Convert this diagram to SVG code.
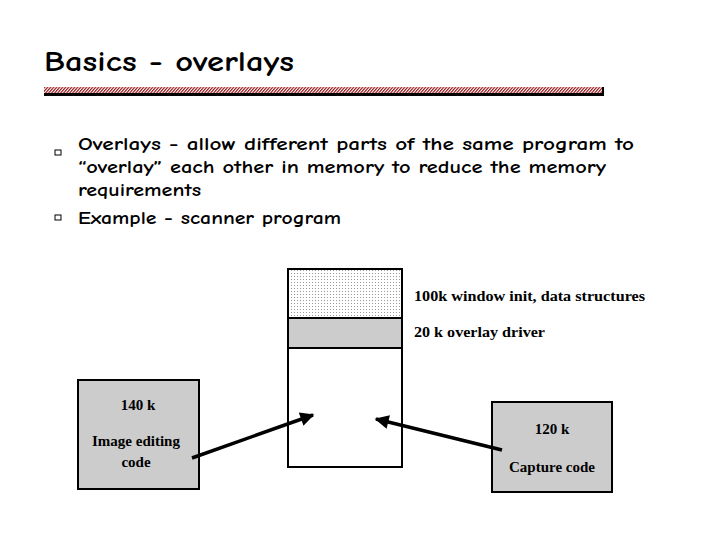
<svg xmlns="http://www.w3.org/2000/svg" width="720" height="540" viewBox="0 0 720 540">
<defs>
<pattern id="hatch" width="3" height="8" patternUnits="userSpaceOnUse" patternTransform="skewX(-40)">
<rect width="3" height="8" fill="#fff"/><rect width="1.6" height="8" fill="#9b1c1c"/>
</pattern>
<pattern id="dots" width="3" height="3" patternUnits="userSpaceOnUse">
<rect width="3" height="3" fill="#fff"/><rect width="1" height="1" fill="#999"/>
</pattern>
<marker id="ah" viewBox="0 0 10 10" refX="9" refY="5" markerWidth="5" markerHeight="4" orient="auto"><path d="M0,0L10,5L0,10z" fill="#000"/></marker>
<style>
.t{font-family:"Comic Neue","DejaVu Sans",sans-serif;font-weight:bold;fill:#000}
.s{font-family:"Liberation Serif",serif;font-size:15px;font-weight:bold;fill:#000}
.box{stroke:#000;stroke-width:2}
.ar{stroke:#000;stroke-width:3.5;marker-end:url(#ah)}
</style>
</defs>
<rect width="720" height="540" fill="#fff"/>
<text class="t" x="44" y="71" font-size="28" textLength="250" lengthAdjust="spacingAndGlyphs">Basics - overlays</text>
<rect x="44" y="87" width="558" height="6" fill="url(#hatch)"/>
<rect x="44" y="93" width="560" height="3" fill="#000"/>
<rect x="602" y="87" width="2" height="6" fill="#000"/>
<g class="t" font-size="18">
<rect x="55" y="150" width="6" height="5" fill="none" stroke="#000" stroke-width="1"/>
<rect x="55" y="215" width="6" height="5" fill="none" stroke="#000" stroke-width="1"/>
<text x="78" y="150" textLength="556" lengthAdjust="spacingAndGlyphs">Overlays - allow different parts of the same program to</text>
<text x="78" y="173" textLength="528" lengthAdjust="spacingAndGlyphs">“overlay” each other in memory to reduce the memory</text>
<text x="78" y="196" textLength="123" lengthAdjust="spacingAndGlyphs">requirements</text>
<text x="78" y="224" textLength="263" lengthAdjust="spacingAndGlyphs">Example - scanner program</text>
</g>
<g id="memory">
<rect class="box" x="288" y="269" width="114" height="49" fill="url(#dots)"/>
<rect class="box" x="288" y="318" width="114" height="30" fill="#ccc"/>
<rect class="box" x="288" y="348" width="114" height="119" fill="#fff"/>
<text class="s" x="414" y="301" textLength="231" lengthAdjust="spacingAndGlyphs">100k window init, data structures</text>
<text class="s" x="414" y="337" textLength="131" lengthAdjust="spacingAndGlyphs">20 k overlay driver</text>
</g>
<g id="image">
<rect class="box" x="78" y="380" width="121" height="109" fill="#ccc"/>
<text class="s" x="138" y="410" text-anchor="middle">140 k</text>
<text class="s" x="136" y="446" text-anchor="middle">Image editing</text>
<text class="s" x="136" y="467" text-anchor="middle">code</text>
</g>
<g id="capture">
<rect class="box" x="492" y="402" width="120" height="90" fill="#ccc"/>
<text class="s" x="552" y="434" text-anchor="middle">120 k</text>
<text class="s" x="552" y="472" text-anchor="middle">Capture code</text>
</g>
<g id="connectors">
<line class="ar" x1="192" y1="458" x2="313" y2="415"/>
<line class="ar" x1="502" y1="450" x2="376" y2="419"/>
</g>
</svg>
